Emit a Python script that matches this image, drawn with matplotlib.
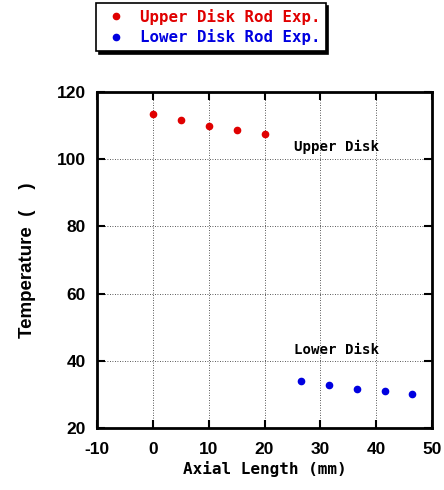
import matplotlib
matplotlib.use("Agg")
import matplotlib.pyplot as plt

# data
upper_x = [0, 5, 10, 15, 20]
upper_t = [113.5, 111.7, 109.9, 108.7, 107.5]
lower_x = [26.5, 31.5, 36.5, 41.5, 46.5]
lower_t = [34.0, 32.8, 31.6, 31.0, 30.1]

x_ticks = [-10, 0, 10, 20, 30, 40, 50]
y_ticks = [20, 40, 60, 80, 100, 120]

MONO = "DejaVu Sans Mono"
SANS = "Liberation Sans"
plt.rcParams["axes.unicode_minus"] = False

fig = plt.figure(figsize=(4.44, 4.90), dpi=100)
ax = fig.add_axes([0.2185, 0.1265, 0.7545, 0.6855])

ax.plot(upper_x, upper_t, "o", color="#e00000", markersize=4.5, label="Upper Disk Rod Exp.")
ax.plot(lower_x, lower_t, "o", color="#0000e0", markersize=4.5, label="Lower Disk Rod Exp.")

ax.set_xlim(-10, 50)
ax.set_ylim(20, 120)
ax.set_xticks(x_ticks)
ax.set_yticks(y_ticks)
ax.grid(True, linestyle=(0, (1, 2)), color="#222222", linewidth=0.6)
ax.tick_params(direction="in", length=6, width=1.5, top=True, right=True)
ax.tick_params(axis="x", pad=10)
ax.tick_params(axis="y", pad=8)
for lab in ax.get_xticklabels() + ax.get_yticklabels():
    lab.set_fontfamily(SANS)
    lab.set_fontweight("bold")
    lab.set_fontsize(12.5)
for s in ax.spines.values():
    s.set_linewidth(2)

ax.set_xlabel("Axial Length (mm)", fontfamily=MONO, fontweight="bold", fontsize=11.5, labelpad=3)
ax.set_ylabel("Temperature  (    )", fontfamily=SANS, fontweight="bold", fontsize=13.5, labelpad=15)

ax.text(25.2, 102.6, "Upper Disk", fontfamily=MONO, fontweight="bold", fontsize=10.2)
ax.text(25.2, 42.1, "Lower Disk", fontfamily=MONO, fontweight="bold", fontsize=10.2)

leg = fig.legend(loc="upper left", bbox_to_anchor=(0.21, 1.0), frameon=True,
                 fancybox=False, shadow={"color": "black", "alpha": 1}, edgecolor="black",
                 borderpad=0.35, handletextpad=0.6, handlelength=1.8, labelspacing=0.3,
                 borderaxespad=0.2,
                 prop={"family": MONO, "weight": "bold", "size": 11.3})
leg.get_frame().set_linewidth(1.2)
for t, c in zip(leg.get_texts(), ["#e00000", "#0000e0"]):
    t.set_color(c)

fig.savefig("out.png", dpi=100)
